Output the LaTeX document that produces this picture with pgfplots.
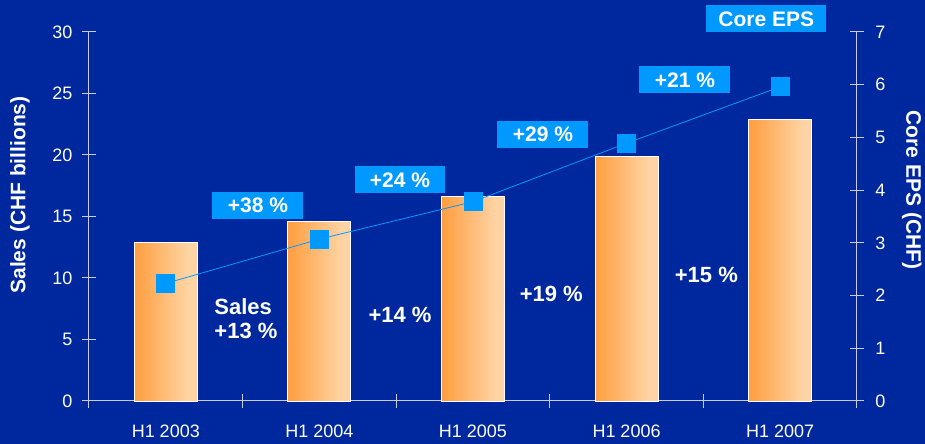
\documentclass[border=0pt]{standalone}
\usepackage{fontspec}
\setmainfont{Liberation Sans}
\usepackage{pgfplots}
\pgfplotsset{compat=1.18}
\definecolor{bg}{HTML}{00289E}
\definecolor{cyanbox}{HTML}{0099FF}
\definecolor{axgrey}{HTML}{C8CCE0}
\definecolor{barL}{HTML}{FF9A38}
\definecolor{barR}{HTML}{FFD4A4}
\pgfdeclarehorizontalshading{barshade}{100bp}{color(0bp)=(barL); color(22bp)=(barL); color(68bp)=(barR); color(100bp)=(barR)}

\tikzset{
  pct/.style={fill=cyanbox, text=white, font=\bfseries\fontsize{21}{23}\selectfont,
    minimum width=91pt, minimum height=27pt, inner sep=0pt},
  growth/.style={text=white, font=\bfseries\fontsize{22}{24}\selectfont},
}

\begin{document}
\begin{tikzpicture}[x=1pt,y=1pt]
\fill[bg] (0,0) rectangle (925,444);
\pgfplotsset{
  every axis/.append style={
    scale only axis, width=768pt, height=369pt,
    at={(89pt,43pt)}, anchor=south west,
    xmin=-0.5, xmax=4.5, clip=false,
    tick align=center, major tick length=14pt, minor tick length=14pt,
    axis line style={-, axgrey, line width=1pt},
    tick style={axgrey, line width=1pt},
    ticklabel style={white, font=\fontsize{18}{20}\selectfont},
    label style={white, font=\bfseries\fontsize{21}{23}\selectfont},
    /pgf/number format/assume math mode=true,
  },
  salesbar/.style={ybar, bar width=63pt, bar shift=0pt, draw=white,
    line width=0.8pt, shading=barshade},
}

% Sales bars (left axis)
\begin{axis}[
  axis x line*=bottom, axis y line*=left,
  ymin=0, ymax=30, ytick={0,5,...,30},
  xtick={0,...,4},
  xticklabels={H1 2003,H1 2004,H1 2005,H1 2006,H1 2007},
  major x tick style={draw=none},
  minor xtick={-0.5,0.5,...,4.5},
  xticklabel style={yshift=-13pt},
  yticklabel style={xshift=-6pt},
  ylabel={Sales (CHF billions)},
  ylabel style={at={(axis description cs:-0.0898,0.558)}, anchor=center},
]
  \addplot[salesbar] coordinates {(0,12.9)};
  \addplot[salesbar] coordinates {(1,14.6)};
  \addplot[salesbar] coordinates {(2,16.6)};
  \addplot[salesbar] coordinates {(3,19.9)};
  \addplot[salesbar] coordinates {(4,22.9)};
  \node[pct] at (axis cs:0.60,15.9) {+38 \%};
  \node[pct] at (axis cs:1.525,17.97) {+24 \%};
  \node[pct] at (axis cs:2.456,21.7) {+29 \%};
  \node[pct] at (axis cs:3.38,26.1) {+21 \%};
  \node[pct, minimum width=120pt] at (axis cs:3.91,31.06) {Core EPS};
  \node[growth, align=left, anchor=west, font=\bfseries\fontsize{22}{24}\selectfont]
    at (axis cs:0.294,6.67) {Sales\\+13 \%};
  \node[growth] at (axis cs:1.525,7.0) {+14 \%};
  \node[growth] at (axis cs:2.51,8.7) {+19 \%};
  \node[growth] at (axis cs:3.52,10.24) {+15 \%};
\end{axis}

% Core EPS line (right axis)
\begin{axis}[
  axis y line*=right, axis x line=none,
  ymin=0, ymax=7, ytick={0,...,7},
  yticklabel style={xshift=8pt},
  ylabel={Core EPS (CHF)},
  ylabel style={at={(axis description cs:1.0716,0.572)}, anchor=center, rotate=180},
]
  \addplot[cyanbox, line width=0.8pt, mark=square*, mark size=9pt,
    mark options={fill=cyanbox, draw=cyanbox}] coordinates {
    (0,2.23) (1,3.07) (2,3.78) (3,4.89) (4,5.96)
  };
\end{axis}
\end{tikzpicture}
\end{document}
